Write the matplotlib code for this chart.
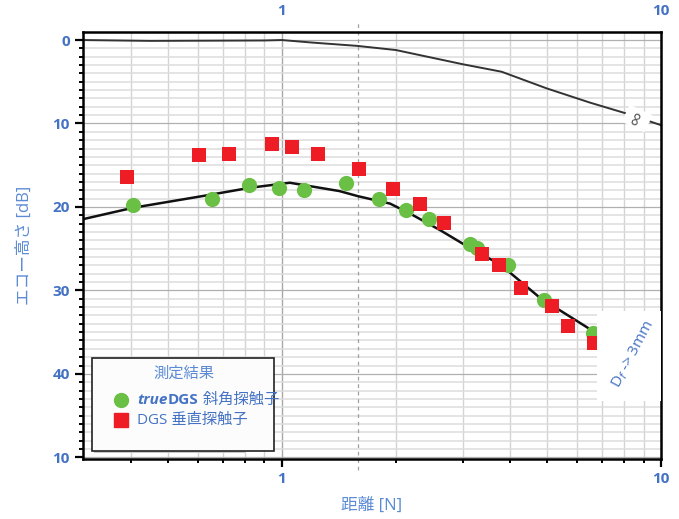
import numpy as np
import matplotlib.pyplot as plt
from matplotlib.ticker import FixedLocator, NullFormatter
from matplotlib.lines import Line2D
import matplotlib.transforms as mtransforms

plt.rcParams['font.family'] = ['Open Sans', 'Noto Sans CJK JP', 'DejaVu Sans']

# Daten
kurve_inf_x = [0.3, 0.45, 0.9, 1.0, 1.2, 1.58, 2.0, 3.0, 3.8, 5.0, 6.5, 8.1, 10.0]
kurve_inf_y = [0.0, 0.1, 0.05, 0.0, 0.3, 0.7, 1.2, 2.9, 3.8, 5.8, 7.5, 8.8, 10.2]

kurve_3mm_x = [0.3, 0.405, 0.636, 0.825, 1.05, 1.42, 1.585, 1.93, 2.18, 2.62, 3.13,
               3.77, 4.8, 6.37, 10.0]
kurve_3mm_y = [21.45, 20.1, 18.6, 17.7, 17.1, 18.1, 18.7, 19.6, 20.8, 22.8, 24.9,
               26.9, 30.9, 34.4, 40.4]

true_x = [0.405, 0.653, 0.817, 0.984, 1.145, 1.478, 1.80, 2.13, 2.45, 3.13, 3.27,
          3.96, 4.92, 6.6]
true_y = [19.8, 19.1, 17.4, 17.7, 18.0, 17.1, 19.0, 20.4, 21.4, 24.4, 24.9,
          26.9, 31.2, 35.1]

dgs_x = [0.390, 0.604, 0.727, 0.941, 1.067, 1.245, 1.60, 1.97, 2.31, 2.67, 3.37,
         3.73, 4.27, 5.16, 5.68, 6.67]
dgs_y = [16.4, 13.8, 13.6, 12.4, 12.8, 13.7, 15.4, 17.8, 19.6, 21.9, 25.6,
         26.9, 29.7, 31.9, 34.3, 36.3]

y_ticks = [0, 10, 20, 30, 40, 50]
y_labels = ['0', '10', '20', '30', '40', '10']
nahfeld_x = 1.585

blau = '#4472c4'
blau_hell = '#5b8bd4'
gruen = '#6abf45'
rot = '#ee1c24'

fig = plt.figure(figsize=(6.79, 5.19), dpi=100)
ax = fig.add_axes([0.1222, 0.1156, 0.8513, 0.8227])

ax.set_xscale('log')
ax.set_xlim(0.299, 10)
ax.set_ylim(50.2, -0.96)

# Gitter
minor_x = [0.4, 0.5, 0.6, 0.7, 0.8, 0.9, 2, 3, 4, 5, 6, 7, 8, 9]
for xv in minor_x:
    ax.axvline(xv, color='#d4d4d4', lw=1.0, zorder=0)
ax.axvline(1, color='#a8a8a8', lw=1.0, zorder=0)
for yv in range(0, 51):
    if yv % 10 == 0:
        ax.axhline(yv, color='#b0b0b0', lw=0.9, zorder=0)
    else:
        ax.axhline(yv, color='#dcdcdc', lw=1.1, zorder=0)

# Nahfeldlänge gestrichelt
trans = mtransforms.blended_transform_factory(ax.transData, ax.transAxes)
ax.plot([nahfeld_x, nahfeld_x], [-0.026, 1.028], transform=trans, color='#a0a0a0',
        lw=0.9, ls=(0, (3, 3)), clip_on=False, zorder=1)

# Kurven
ax.plot(kurve_inf_x, kurve_inf_y, color='#333333', lw=1.4, zorder=2)
ax.plot(kurve_3mm_x, kurve_3mm_y, color='#111111', lw=1.8, zorder=2)

ax.text(8.65, 9.4, '∞', rotation=65, color='#555555', fontsize=15, ha='center',
        va='center', zorder=3,
        bbox=dict(boxstyle='square,pad=0.1', fc='white', ec='none'))

# Messpunkte
ax.scatter(true_x, true_y, s=120, color=gruen, marker='o', zorder=4, linewidths=0)
ax.scatter(dgs_x, dgs_y, s=110, color=rot, marker='s', zorder=5, linewidths=0)

# Beschriftung D_f -> 3mm
ax.add_patch(plt.Rectangle((0.89, 0.137), 0.123, 0.21, transform=ax.transAxes,
                           fc='white', ec='none', zorder=6))
ax.text(0.952, 0.245, 'D$_f$ -> 3mm', transform=ax.transAxes, rotation=62,
        color=blau, fontsize=11, ha='center', va='center', zorder=7)

# Legende
leg_x0, leg_y0, leg_w, leg_h = 0.0153, 0.0197, 0.3146, 0.218
ax.add_patch(plt.Rectangle((leg_x0 + 0.004, leg_y0 - 0.006), leg_w * 0.83, leg_h,
                           transform=ax.transAxes, fc='#c8c8c8', ec='none', zorder=7))
ax.add_patch(plt.Rectangle((leg_x0, leg_y0), leg_w, leg_h, transform=ax.transAxes,
                           fc='#fcfcfc', ec='#222222', lw=1.2, zorder=8))
ax.text(leg_x0 + 0.16, leg_y0 + 0.18, '測定結果', transform=ax.transAxes,
        color=blau_hell, fontsize=11, ha='center', va='center', zorder=9)
ax.add_line(Line2D([leg_x0 + 0.05], [leg_y0 + 0.118], transform=ax.transAxes,
                   marker='o', ms=10, color=gruen, mec=gruen, ls='none', zorder=9))
ax.add_line(Line2D([leg_x0 + 0.05], [leg_y0 + 0.071], transform=ax.transAxes,
                   marker='s', ms=9.5, color=rot, mec=rot, ls='none', zorder=9))
t1 = ax.text(leg_x0 + 0.078, leg_y0 + 0.118, 'true', transform=ax.transAxes,
             color=blau, fontsize=11, fontweight='bold', fontstyle='italic',
             ha='left', va='center', zorder=9)
t2 = ax.annotate('DGS', xy=(1, 0.5), xycoords=t1, xytext=(0.5, 0),
                 textcoords='offset points', color=blau, fontsize=11,
                 fontweight='bold', ha='left', va='center', zorder=9)
ax.annotate(' 斜角探触子', xy=(1, 0.5), xycoords=t2, xytext=(0, 0),
            textcoords='offset points', color=blau, fontsize=11,
            ha='left', va='center', zorder=9)
ax.text(leg_x0 + 0.078, leg_y0 + 0.071, 'DGS 垂直探触子', transform=ax.transAxes,
        color=blau, fontsize=11, ha='left', va='center', zorder=9)

# Achsen
ax.yaxis.set_major_locator(FixedLocator(y_ticks))
ax.yaxis.set_minor_locator(FixedLocator([v for v in range(0, 51) if v % 10]))
ax.set_yticklabels(y_labels)
ax.xaxis.set_major_locator(FixedLocator([1, 10]))
ax.xaxis.set_minor_locator(FixedLocator(minor_x))
ax.xaxis.set_minor_formatter(NullFormatter())
ax.set_xticklabels(['1', '10'])
ax.tick_params(axis='both', which='major', labelsize=11, labelcolor=blau,
               length=6, width=1.6, color='black', direction='out')
ax.tick_params(axis='both', which='minor', length=3, width=1.4, color='black',
               direction='out')
for lab in ax.get_xticklabels() + ax.get_yticklabels():
    lab.set_fontweight('bold')

sec = ax.secondary_xaxis('top')
sec.xaxis.set_major_locator(FixedLocator([1, 10]))
sec.xaxis.set_minor_locator(FixedLocator([]))
sec.set_xticklabels(['1', '10'])
sec.tick_params(length=0, labelsize=11, labelcolor=blau, pad=10)
for lab in sec.get_xticklabels():
    lab.set_fontweight('bold')
sec.spines['top'].set_visible(False)

for sp in ax.spines.values():
    sp.set_linewidth(1.8)
    sp.set_color('black')

ax.set_xlabel('距離 [N]', color=blau_hell, fontsize=12, labelpad=8)
ax.set_ylabel('エコー高さ [dB]', color=blau_hell, fontsize=12, labelpad=14)

fig.savefig('out.png', dpi=100)
